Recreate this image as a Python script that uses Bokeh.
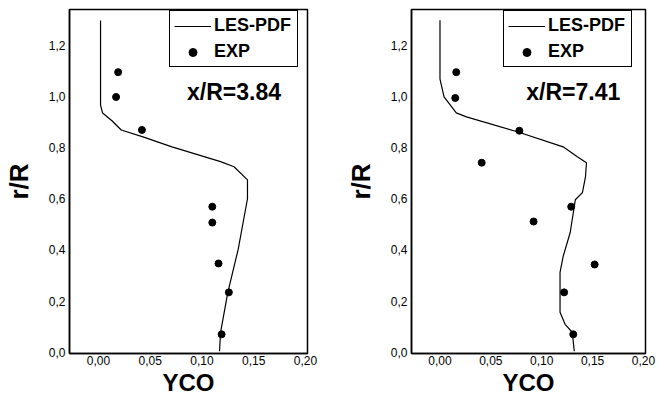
from bokeh.plotting import figure
from bokeh.layouts import row
from bokeh.models import Range1d, FixedTicker, Label
from bokeh.embed import file_html
from bokeh.resources import INLINE

# ---- data ----
les_left_x = [0.002, 0.002, 0.004, 0.013, 0.022, 0.043, 0.071, 0.118, 0.131, 0.144, 0.144, 0.135, 0.125, 0.118, 0.117]
les_left_y = [1.297, 0.966, 0.935, 0.905, 0.869, 0.842, 0.803, 0.745, 0.725, 0.674, 0.600, 0.402, 0.234, 0.078, 0.004]
exp_left_x = [0.019, 0.017, 0.042, 0.110, 0.110, 0.116, 0.126, 0.119]
exp_left_y = [1.095, 0.998, 0.869, 0.569, 0.507, 0.347, 0.234, 0.070]

les_right_x = [0.000, 0.000, 0.004, 0.016, 0.026, 0.076, 0.121, 0.135, 0.144, 0.143, 0.140, 0.133,
               0.128, 0.121, 0.118, 0.118, 0.123, 0.130, 0.132]
les_right_y = [1.298, 1.068, 0.998, 0.936, 0.920, 0.862, 0.803, 0.764, 0.741, 0.686, 0.624, 0.596,
               0.468, 0.374, 0.312, 0.156, 0.109, 0.078, 0.004]
exp_right_x = [0.016, 0.015, 0.078, 0.041, 0.129, 0.092, 0.152, 0.122, 0.131]
exp_right_y = [1.095, 0.994, 0.866, 0.741, 0.569, 0.511, 0.343, 0.234, 0.070]

x_ticks = [0.0, 0.05, 0.1, 0.15, 0.2]
x_tick_labels = ["0,00", "0,05", "0,10", "0,15", "0,20"]
y_ticks = [0.0, 0.2, 0.4, 0.6, 0.8, 1.0, 1.2]
y_tick_labels = ["0,0", "0,2", "0,4", "0,6", "0,8", "1,0", "1,2"]

titles = ["x/R=3.84", "x/R=7.41"]
series_names = ["LES-PDF", "EXP"]
x_label = "YCO"
y_label = "r/R"

FONT = "Liberation Sans"


def make(lx, ly, ex, ey, title, width, bl, br, leg_loc):
    p = figure(width=width, height=398, output_backend="svg", toolbar_location=None,
               x_range=Range1d(-0.028, 0.202), y_range=Range1d(-0.005, 1.34),
               min_border_left=bl, min_border_right=br, min_border_top=9, min_border_bottom=44)
    p.grid.visible = False
    p.outline_line_color = "black"
    p.outline_line_width = 1.5
    p.background_fill_color = "white"
    p.border_fill_color = "white"

    p.line(lx, ly, line_color="black", line_width=1.2, legend_label=series_names[0])
    p.scatter(ex, ey, size=7, fill_color="black", line_color="black", legend_label=series_names[1])

    p.xaxis.ticker = FixedTicker(ticks=x_ticks)
    p.xaxis.major_label_overrides = dict(zip(x_ticks, x_tick_labels))
    p.yaxis.ticker = FixedTicker(ticks=y_ticks)
    p.yaxis.major_label_overrides = dict(zip(y_ticks, y_tick_labels))
    for ax in (p.xaxis, p.yaxis):
        ax.major_tick_in = 0
        ax.major_tick_out = 0
        ax.minor_tick_in = 0
        ax.minor_tick_out = 0
        ax.axis_line_width = 1.5
        ax.axis_line_color = "black"
        ax.major_label_text_font = FONT
        ax.major_label_text_font_size = "12px"
        ax.major_label_text_color = "black"
        ax.axis_label_text_font = FONT
        ax.axis_label_text_font_style = "bold"
        ax.axis_label_text_color = "black"
    p.xaxis.axis_label = x_label
    p.xaxis.axis_label_text_font_size = "24px"
    p.xaxis.major_label_standoff = 2
    p.xaxis.axis_label_standoff = 1
    p.yaxis.axis_label = y_label
    p.yaxis.axis_label_text_font_size = "26px"
    p.yaxis.major_label_standoff = 4
    p.yaxis.axis_label_standoff = 12

    lg = p.legend[0]
    lg.location = leg_loc
    lg.margin = 0
    lg.padding = 4
    lg.spacing = 5
    lg.glyph_width = 37
    lg.glyph_height = 20
    lg.label_height = 20
    lg.label_width = 79
    lg.label_standoff = 3
    lg.label_text_font = FONT
    lg.label_text_font_style = "bold"
    lg.label_text_font_size = "18px"
    lg.label_text_color = "black"
    lg.border_line_color = "black"
    lg.border_line_alpha = 1.0
    lg.border_line_width = 1.3
    lg.background_fill_alpha = 1.0

    p.add_layout(Label(x=0.131, y=1.017, text=title, text_font=FONT, text_font_style="bold",
                       text_font_size="23px", text_align="center", text_baseline="middle",
                       text_color="black"))
    return p


p1 = make(les_left_x, les_left_y, exp_left_x, exp_left_y, titles[0], 330, 66, 23, (100, 286))
p2 = make(les_right_x, les_right_y, exp_right_x, exp_right_y, titles[1], 331, 81, 16, (92, 286))
layout = row(p1, p2)

open("out.html", "w").write(file_html(layout, INLINE))
